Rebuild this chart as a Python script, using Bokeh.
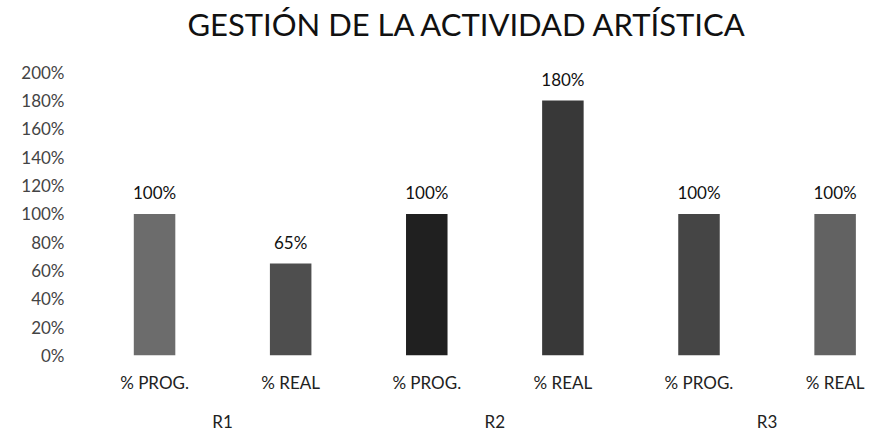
from bokeh.plotting import figure
from bokeh.models import Range1d, FixedTicker, LinearAxis, NumeralTickFormatter, ColumnDataSource
from bokeh.core.properties import value
from bokeh.embed import file_html
from bokeh.resources import INLINE

title = "GESTIÓN DE LA ACTIVIDAD ARTÍSTICA"
groups = ["R1", "R2", "R3"]
series = ["% PROG.", "% REAL"]
bar_labels = ["% PROG.", "% REAL", "% PROG.", "% REAL", "% PROG.", "% REAL"]
values = [1.00, 0.65, 1.00, 1.80, 1.00, 1.00]
value_texts = ["100%", "65%", "100%", "180%", "100%", "100%"]
y_ticks = [0, 0.2, 0.4, 0.6, 0.8, 1.0, 1.2, 1.4, 1.6, 1.8, 2.0]

colors = ["#6c6c6c", "#4e4e4e", "#202020", "#383838", "#454545", "#626262"]
FONT = "Lato"

xs = list(range(len(values)))
group_x = [0.5, 2.5, 4.5]

# frame spans the full canvas height above the axes; the extra room above 200% holds the title
p = figure(width=870, height=434, output_backend="svg", toolbar_location=None,
           x_range=Range1d(-0.5, 5.26), y_range=Range1d(0, 2.507),
           min_border_left=86, min_border_right=0, min_border_top=0, min_border_bottom=69)

p.text(x=[2.3], y=[2.34], text=[title], text_align="center", text_baseline="alphabetic",
       text_font=value(FONT), text_font_size="31px", text_color="#111111")

src = ColumnDataSource(dict(x=xs, top=values, color=colors, label=value_texts))
p.vbar(x="x", top="top", width=0.305, fill_color="color", line_color=None, source=src)
p.text(x="x", y="top", text="label", source=src, text_align="center", text_baseline="middle",
       y_offset=-21, text_font=value(FONT), text_font_size="17px", text_color="#111111")

p.grid.visible = False
p.outline_line_color = None
p.background_fill_color = "white"

ya = p.yaxis[0]
ya.ticker = FixedTicker(ticks=y_ticks)
ya.formatter = NumeralTickFormatter(format="0%")
ya.axis_line_color = None
ya.major_tick_line_color = None
ya.minor_tick_line_color = None
ya.major_tick_out = 0
ya.major_tick_in = 0
ya.major_label_text_font = FONT
ya.major_label_text_font_size = "17px"
ya.major_label_text_color = "#444444"
ya.major_label_standoff = 22

xa = p.xaxis[0]
xa.ticker = FixedTicker(ticks=xs)
xa.major_label_overrides = {i: t for i, t in enumerate(bar_labels)}
xa.axis_line_color = None
xa.major_tick_line_color = None
xa.minor_tick_line_color = None
xa.major_tick_out = 0
xa.major_tick_in = 0
xa.major_label_text_font = FONT
xa.major_label_text_font_size = "17px"
xa.major_label_text_color = "#222222"
xa.major_label_standoff = 16

xa2 = LinearAxis(ticker=FixedTicker(ticks=group_x),
                 major_label_overrides={group_x[i]: g for i, g in enumerate(groups)})
xa2.axis_line_color = None
xa2.major_tick_line_color = None
xa2.minor_tick_line_color = None
xa2.major_tick_out = 0
xa2.major_tick_in = 0
xa2.major_label_text_font = FONT
xa2.major_label_text_font_size = "17px"
xa2.major_label_text_color = "#222222"
xa2.major_label_standoff = 15
p.add_layout(xa2, "below")

open("out.html", "w").write(file_html(p, INLINE))
